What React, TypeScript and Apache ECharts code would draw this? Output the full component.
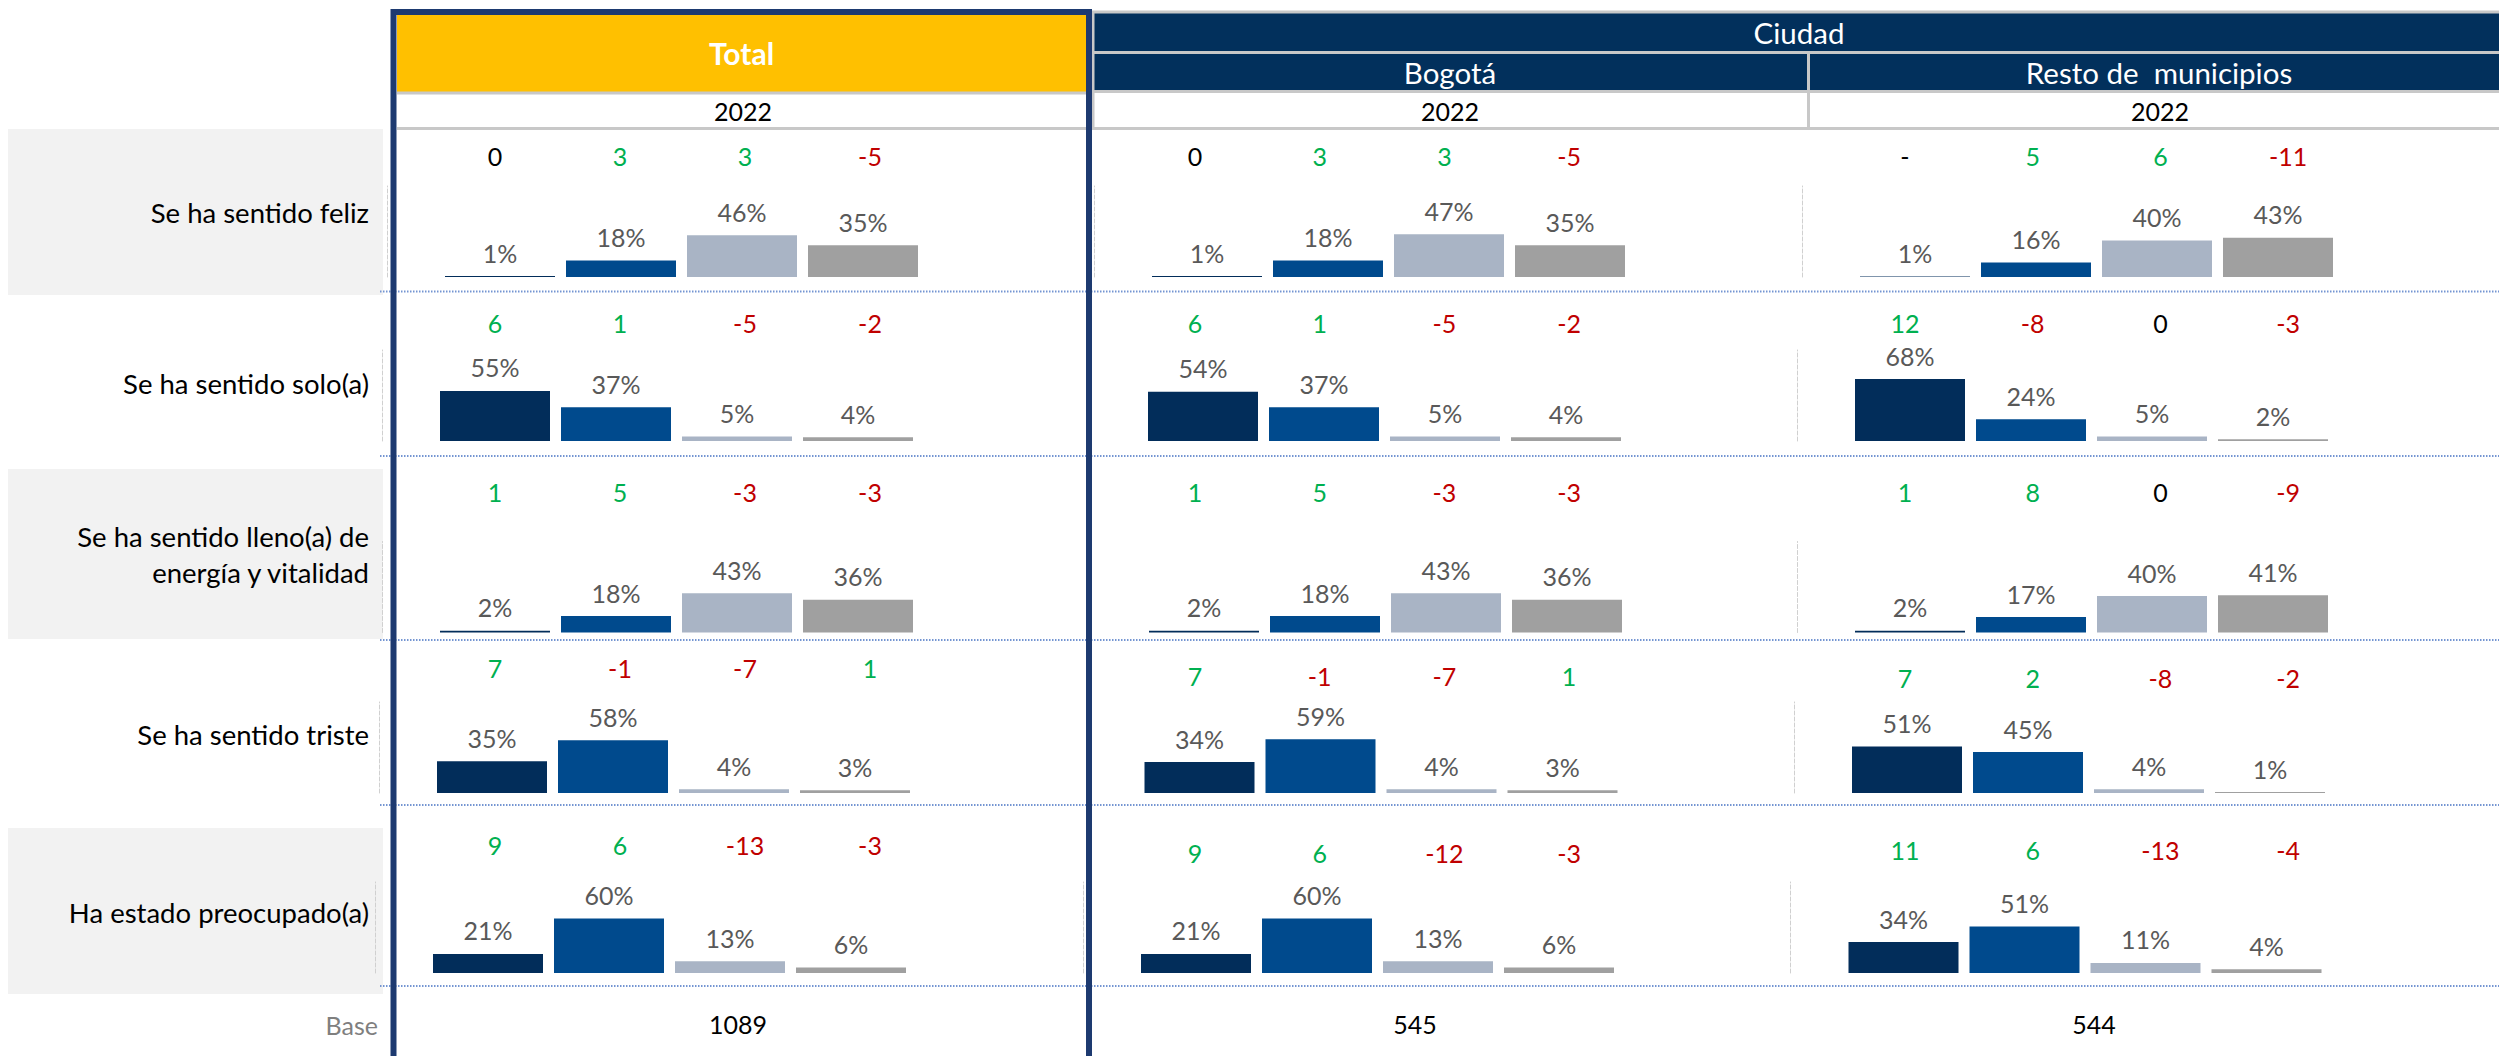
import React, { useEffect, useRef } from "react";
import * as echarts from "echarts";

// ---------- DATA ----------
const rowLabels = [
  "Se ha sentido feliz",
  "Se ha sentido solo(a)",
  "Se ha sentido lleno(a) de\nenergía y vitalidad",
  "Se ha sentido triste",
  "Ha estado preocupado(a)",
];
const answerKeys = ["r1", "r2", "r3", "r4"];

const columnNames = ["Total", "Bogotá", "Resto de  municipios"];
const groupHeader = "Ciudad";
const yearLabel = "2022";

const totalPct = [
  [1, 18, 46, 35],
  [55, 37, 5, 4],
  [2, 18, 43, 36],
  [35, 58, 4, 3],
  [21, 60, 13, 6],
];
const bogotaPct = [
  [1, 18, 47, 35],
  [54, 37, 5, 4],
  [2, 18, 43, 36],
  [34, 59, 4, 3],
  [21, 60, 13, 6],
];
const restoPct = [
  [0.5, 16, 40, 43],
  [68, 24, 5, 2],
  [2, 17, 40, 41],
  [51, 45, 4, 1],
  [34, 51, 11, 4],
];

const totalDiff: (number | string)[][] = [
  [0, 3, 3, -5],
  [6, 1, -5, -2],
  [1, 5, -3, -3],
  [7, -1, -7, 1],
  [9, 6, -13, -3],
];
const bogotaDiff: (number | string)[][] = [
  [0, 3, 3, -5],
  [6, 1, -5, -2],
  [1, 5, -3, -3],
  [7, -1, -7, 1],
  [9, 6, -12, -3],
];
const restoDiff: (number | string)[][] = [
  ["-", 5, 6, -11],
  [12, -8, 0, -3],
  [1, 8, 0, -9],
  [7, 2, -8, -2],
  [11, 6, -13, -4],
];

const baseLabel = "Base";
const baseValues = [1089, 545, 544];

// ---------- STYLE / LAYOUT ----------
const FONT = "Lato, 'Noto Sans', sans-serif";
const barColors = ["#022D5A", "#004A8D", "#A9B4C5", "#A0A0A0"];
const NAVY = "#02305C";
const BORDER_NAVY = "#1D3A70";
const YELLOW = "#FFC000";
const CELL_GRAY = "#C8C8C8";

const baselines = [277, 441, 632.5, 793, 973];
const PLOT_H = 91;
const SLOT = 121;
const firstCenters = [
  [500, 495, 495, 492, 488],
  [1207, 1203, 1204, 1199.5, 1196],
  [1915, 1910, 1910, 1907, 1903.5],
];
const diffX = [
  { start: 495, step: 125 },
  { start: 1195, step: 124.7 },
  { start: 1905, step: 127.7 },
];
const diffY = [
  [156, 323, 492, 668, 845],
  [156, 323, 492, 676, 853],
  [156, 323, 492, 678, 850],
];
const rowLabelY = [212, 383, 554, 734, 912];
const rowBg = [
  [129, 295],
  [469, 639],
  [828, 994],
];
const separators = [291.5, 456, 640, 805, 986];
const baseX = [738, 1415, 2094];

const diffColor = (v: number | string) =>
  typeof v !== "number" || v === 0 ? "#000000" : v > 0 ? "#00B050" : "#C00000";

function buildOption() {
  const pctSets = [totalPct, bogotaPct, restoPct];
  const diffSets = [totalDiff, bogotaDiff, restoDiff];
  const grids: any[] = [];
  const xAxes: any[] = [];
  const yAxes: any[] = [];
  const series: any[] = [];
  const graphics: any[] = [];

  // row label backgrounds
  rowBg.forEach(([y0, y1]) => {
    graphics.push({
      type: "rect",
      shape: { x: 8, y: y0, width: 375, height: y1 - y0 },
      style: { fill: "#F2F2F2" },
      z: 0,
    });
  });

  // separators (dotted blue)
  separators.forEach((y) => {
    graphics.push({
      type: "line",
      shape: { x1: 380, y1: y, x2: 2499, y2: y },
      style: { stroke: "#7495D2", lineWidth: 2, lineDash: [1.5, 1.5] },
      z: 1,
    });
  });

  // Total header
  graphics.push({
    type: "rect",
    shape: { x: 397, y: 13, width: 689, height: 79 },
    style: { fill: YELLOW },
    z: 1,
  });
  graphics.push({
    type: "line",
    shape: { x1: 397, y1: 93, x2: 1086, y2: 93 },
    style: { stroke: CELL_GRAY, lineWidth: 3 },
    z: 1,
  });
  graphics.push({
    type: "line",
    shape: { x1: 397, y1: 128.5, x2: 1086, y2: 128.5 },
    style: { stroke: CELL_GRAY, lineWidth: 3 },
    z: 1,
  });

  // Ciudad header
  graphics.push({
    type: "rect",
    shape: { x: 1093, y: 12, width: 1420, height: 40.5 },
    style: { fill: NAVY, stroke: CELL_GRAY, lineWidth: 3 },
    z: 1,
  });
  graphics.push({
    type: "rect",
    shape: { x: 1093, y: 52.5, width: 715.5, height: 39 },
    style: { fill: NAVY, stroke: CELL_GRAY, lineWidth: 3 },
    z: 1,
  });
  graphics.push({
    type: "rect",
    shape: { x: 1808.5, y: 52.5, width: 710, height: 39 },
    style: { fill: NAVY, stroke: CELL_GRAY, lineWidth: 3 },
    z: 1,
  });
  graphics.push({
    type: "rect",
    shape: { x: 1093, y: 91.5, width: 715.5, height: 37 },
    style: { fill: "#FFFFFF", stroke: CELL_GRAY, lineWidth: 3 },
    z: 1,
  });
  graphics.push({
    type: "rect",
    shape: { x: 1808.5, y: 91.5, width: 710, height: 37 },
    style: { fill: "#FFFFFF", stroke: CELL_GRAY, lineWidth: 3 },
    z: 1,
  });

  const headerText = (text: string, x: number, y: number, fill: string, size: number, weight = "normal") => ({
    type: "text",
    x,
    y,
    z: 5,
    style: {
      text,
      fill,
      fontSize: size,
      fontFamily: FONT,
      fontWeight: weight,
      align: "center",
      verticalAlign: "middle",
    },
  });

  graphics.push(headerText(columnNames[0], 741.5, 53, "#FFFFFF", 30, "bold"));
  graphics.push(headerText(groupHeader, 1799, 32, "#FFFFFF", 29.5));
  graphics.push(headerText(columnNames[1], 1450, 72, "#FFFFFF", 29.5));
  graphics.push(headerText(columnNames[2], 2159, 72, "#FFFFFF", 29.5));
  graphics.push(headerText(yearLabel, 743, 111, "#000000", 25));
  graphics.push(headerText(yearLabel, 1450, 111, "#000000", 25));
  graphics.push(headerText(yearLabel, 2160, 111, "#000000", 25));

  // row labels
  rowLabels.forEach((lab, r) => {
    graphics.push({
      type: "text",
      x: 369,
      y: rowLabelY[r],
      z: 5,
      style: {
        text: lab,
        fill: "#000000",
        fontSize: 27.5,
        fontFamily: FONT,
        align: "right",
        verticalAlign: "middle",
        lineHeight: 36,
      },
    });
  });

  // base
  graphics.push({
    type: "text",
    x: 378,
    y: 1025,
    z: 5,
    style: {
      text: baseLabel,
      fill: "#7F7F7F",
      fontSize: 25,
      fontFamily: FONT,
      align: "right",
      verticalAlign: "middle",
    },
  });
  baseValues.forEach((b, c) => {
    graphics.push(headerText(String(b), baseX[c], 1024, "#000000", 25));
  });

  // grids + bars + diffs
  for (let c = 0; c < 3; c++) {
    for (let r = 0; r < 5; r++) {
      const idx = grids.length;
      grids.push({
        left: firstCenters[c][r] - SLOT / 2,
        width: SLOT * 4,
        top: baselines[r] - PLOT_H,
        height: PLOT_H,
        containLabel: false,
      });
      xAxes.push({
        type: "category",
        gridIndex: idx,
        data: answerKeys,
        show: false,
      });
      yAxes.push({
        type: "value",
        gridIndex: idx,
        min: 0,
        max: 100,
        offset: 52.5,
        axisLine: {
          show: true,
          lineStyle: { color: "#D0D0D0", width: 1, type: "dashed" },
        },
        axisTick: { show: false },
        axisLabel: { show: false },
        splitLine: { show: false },
      });
      series.push({
        type: "bar",
        xAxisIndex: idx,
        yAxisIndex: idx,
        barWidth: 110,
        data: pctSets[c][r].map((v, j) => ({
          value: v,
          itemStyle: { color: barColors[j] },
        })),
        label: {
          show: true,
          position: "top",
          distance: 11,
          color: "#595959",
          fontSize: 25,
          fontFamily: FONT,
          formatter: (p: any) => Math.round(p.value) + "%",
        },
      });
      diffSets[c][r].forEach((d, j) => {
        graphics.push({
          type: "text",
          x: diffX[c].start + j * diffX[c].step,
          y: diffY[c][r],
          z: 5,
          style: {
            text: String(d),
            fill: diffColor(d),
            fontSize: 25,
            fontFamily: FONT,
            align: "center",
            verticalAlign: "middle",
          },
        });
      });
    }
  }

  // navy border around Total column (on top)
  graphics.push({
    type: "rect",
    shape: { x: 393.5, y: 12, width: 695.5, height: 1100 },
    style: { fill: "none", stroke: BORDER_NAVY, lineWidth: 6 },
    z: 10,
  });

  return {
    animation: false,
    backgroundColor: "#FFFFFF",
    grid: grids,
    xAxis: xAxes,
    yAxis: yAxes,
    series,
    graphic: { elements: graphics },
  };
}

export default function App() {
  const ref = useRef<HTMLDivElement>(null);
  useEffect(() => {
    if (!ref.current) return;
    const chart = echarts.init(ref.current, undefined, { renderer: "svg" });
    chart.setOption(buildOption() as any);
    return () => chart.dispose();
  }, []);
  return (
    <div
      ref={ref}
      style={{ position: "absolute", left: 0, top: 0, width: 2499, height: 1056 }}
    />
  );
}
